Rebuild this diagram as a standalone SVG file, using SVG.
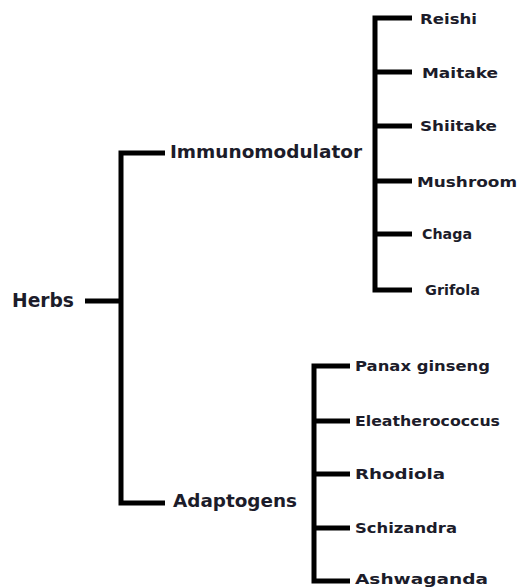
<svg xmlns="http://www.w3.org/2000/svg" width="518" height="588" viewBox="0 0 518 588">
  <style>
    .ln { stroke: #000; stroke-width: 5; fill: none; stroke-linecap: butt; stroke-linejoin: miter; }
    .t { font-family: "DejaVu Sans", "Liberation Sans", sans-serif; font-weight: bold; fill: #1c1c2a; }
    .leaf { font-size: 14px; }
    .mid { font-size: 17px; }
    .root { font-size: 19px; }
  </style>
  <rect width="518" height="588" fill="#fff"/>
  <g id="connectors">
    <path class="ln" d="M85,301 H121"/>
    <path class="ln" d="M165,153 H121 V503 H165"/>
    <path class="ln" d="M412,18 H375 V290 H412"/>
    <path class="ln" d="M375,72 H412 M375,126 H412 M375,181 H412 M375,234 H412"/>
    <path class="ln" d="M350,366 H314 V581 H350"/>
    <path class="ln" d="M314,421 H350 M314,474 H350 M314,528 H350"/>
  </g>
  <g id="node-herbs"><text class="t root" x="12" y="307" textLength="62" lengthAdjust="spacingAndGlyphs">Herbs</text></g>
  <g id="node-immunomodulator"><text class="t mid" x="170" y="158" textLength="192" lengthAdjust="spacingAndGlyphs">Immunomodulator</text></g>
  <g id="node-adaptogens"><text class="t mid" x="173" y="507" textLength="124" lengthAdjust="spacingAndGlyphs">Adaptogens</text></g>
  <g id="node-reishi"><text class="t leaf" x="420" y="24" textLength="57" lengthAdjust="spacingAndGlyphs">Reishi</text></g>
  <g id="node-maitake"><text class="t leaf" x="422" y="78" textLength="76" lengthAdjust="spacingAndGlyphs">Maitake</text></g>
  <g id="node-shiitake"><text class="t leaf" x="420" y="131" textLength="77" lengthAdjust="spacingAndGlyphs">Shiitake</text></g>
  <g id="node-mushroom"><text class="t leaf" x="417" y="187" textLength="100" lengthAdjust="spacingAndGlyphs">Mushroom</text></g>
  <g id="node-chaga"><text class="t leaf" x="422" y="239" textLength="50" lengthAdjust="spacingAndGlyphs">Chaga</text></g>
  <g id="node-grifola"><text class="t leaf" x="425" y="295" textLength="55" lengthAdjust="spacingAndGlyphs">Grifola</text></g>
  <g id="node-panax"><text class="t leaf" x="355" y="371" textLength="135" lengthAdjust="spacingAndGlyphs">Panax ginseng</text></g>
  <g id="node-eleatherococcus"><text class="t leaf" x="355" y="426" textLength="145" lengthAdjust="spacingAndGlyphs">Eleatherococcus</text></g>
  <g id="node-rhodiola"><text class="t leaf" x="355" y="479" textLength="90" lengthAdjust="spacingAndGlyphs">Rhodiola</text></g>
  <g id="node-schizandra"><text class="t leaf" x="355" y="533" textLength="102" lengthAdjust="spacingAndGlyphs">Schizandra</text></g>
  <g id="node-ashwaganda"><text class="t leaf" x="355" y="584" textLength="133" lengthAdjust="spacingAndGlyphs">Ashwaganda</text></g>
</svg>
